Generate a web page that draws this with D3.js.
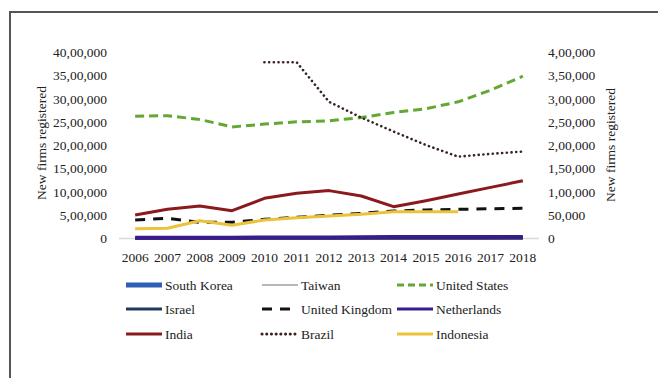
<!DOCTYPE html>
<html>
<head>
<meta charset="utf-8">
<script src="https://cdn.jsdelivr.net/npm/d3@7"></script>
<style>
  body { margin: 0; background: #fff; }
  svg text { font-family: "Liberation Serif", "DejaVu Serif", serif; }
</style>
</head>
<body>
<div id="chart"></div>
<script>
const years = [2006, 2007, 2008, 2009, 2010, 2011, 2012, 2013, 2014, 2015, 2016, 2017, 2018];

// Left axis values (right axis is the same scale / 10)
const southKorea = [8000, 8000, 8000, 8000, 9000, 9000, 10000, 11000, 12000, 12000, 13000, 13000, 14000];
const taiwan = [5000, 5000, 5000, 5000, 5000, 5000, 5000, 5000, 5000, 5000, 5000, 5000, 5000];
const unitedStates = [2630000, 2640000, 2560000, 2400000, 2460000, 2510000, 2530000, 2600000, 2710000, 2790000, 2940000, 3190000, 3490000];
const israel = [4000, 4000, 4000, 4000, 4000, 4000, 4000, 4000, 4000, 4000, 4000, 4000, 4000];
const unitedKingdom = [398000, 434000, 348000, 348000, 413000, 455000, 498000, 541000, 591000, 613000, 627000, 641000, 649000];
const netherlands = [18000, 18000, 18000, 18000, 20000, 22000, 24000, 28000, 30000, 30000, 30000, 30000, 30000];
const india = [505000, 628000, 699000, 598000, 864000, 972000, 1030000, 914000, 684000, 813000, 957000, 1100000, 1240000];
const brazil = [null, null, null, null, 3790000, 3790000, 2940000, 2600000, 2300000, 2010000, 1760000, 1820000, 1870000];
const indonesia = [211000, 219000, 383000, 283000, 398000, 447000, 484000, 520000, 577000, 577000, 577000, null, null];

const leftTicks = [0, 500000, 1000000, 1500000, 2000000, 2500000, 3000000, 3500000, 4000000];
const rightTicks = [0, 50000, 100000, 150000, 200000, 250000, 300000, 350000, 400000];

const series = [
  { name: "South Korea", values: southKorea, color: "#2f5fb3", width: 3, dash: null },
  { name: "Taiwan", values: taiwan, color: "#a0a0a0", width: 2, dash: null },
  { name: "United States", values: unitedStates, color: "#62a832", width: 3, dash: "9,5" },
  { name: "Israel", values: israel, color: "#1f3a5c", width: 3, dash: null },
  { name: "United Kingdom", values: unitedKingdom, color: "#111", width: 3, dash: "10,8" },
  { name: "Netherlands", values: netherlands, color: "#3b1a8c", width: 4, dash: null },
  { name: "India", values: india, color: "#8b1a1e", width: 3, dash: null },
  { name: "Brazil", values: brazil, color: "#3a2420", width: 2.6, dash: "0.1,4.6", cap: "round" },
  { name: "Indonesia", values: indonesia, color: "#ecc23a", width: 3, dash: null }
];

const W = 658, H = 378;
const plot = { left: 119, right: 539, top: 52.5, bottom: 238.5 };
const FONT = "'Liberation Serif', 'DejaVu Serif', serif";

const svg = d3.select("#chart").append("svg")
  .attr("width", W).attr("height", H)
  .attr("font-family", FONT);

// Frame (only top and left edges visible)
svg.append("line").attr("x1", 10).attr("x2", W).attr("y1", 12).attr("y2", 12)
  .attr("stroke", "#555").attr("stroke-width", 2);
svg.append("line").attr("x1", 10).attr("x2", 10).attr("y1", 11).attr("y2", H)
  .attr("stroke", "#555").attr("stroke-width", 2);

const x = d3.scalePoint().domain(years).range([plot.left, plot.right]).padding(0.5);
const yLeft = d3.scaleLinear().domain([0, 4000000]).range([plot.bottom, plot.top]);
const yRight = d3.scaleLinear().domain([0, 400000]).range([plot.bottom, plot.top]);

// Indian digit grouping (e.g. 40,00,000)
const fmt = (v) => {
  const s = String(v);
  if (s.length <= 3) return s;
  const head = s.slice(0, -3), tail = s.slice(-3);
  return head.replace(/\B(?=(\d{2})+(?!\d))/g, ",") + "," + tail;
};

// Zero baseline
svg.append("line").attr("x1", plot.left).attr("x2", plot.right)
  .attr("y1", plot.bottom).attr("y2", plot.bottom)
  .attr("stroke", "#d9d9d9").attr("stroke-width", 1.5);

// Left tick labels
svg.append("g").selectAll("text").data(leftTicks).enter().append("text")
  .attr("x", 107).attr("y", (d) => yLeft(d)).attr("dy", "0.35em")
  .attr("text-anchor", "end").attr("font-size", "13.5px").attr("fill", "#222")
  .text((d) => fmt(d));

// Right tick labels
svg.append("g").selectAll("text").data(rightTicks).enter().append("text")
  .attr("x", 548).attr("y", (d) => yRight(d)).attr("dy", "0.35em")
  .attr("text-anchor", "start").attr("font-size", "13.5px").attr("fill", "#222")
  .text((d) => fmt(d));

// X tick labels
svg.append("g").selectAll("text").data(years).enter().append("text")
  .attr("x", (d) => x(d)).attr("y", 257).attr("dy", "0.35em")
  .attr("text-anchor", "middle").attr("font-size", "13.5px").attr("fill", "#222")
  .text((d) => d);

// Axis titles
svg.append("text").attr("transform", "translate(46,143) rotate(-90)")
  .attr("text-anchor", "middle").attr("font-size", "13.5px").attr("fill", "#222")
  .text("New firms registered");
svg.append("text").attr("transform", "translate(615,145) rotate(-90)")
  .attr("text-anchor", "middle").attr("font-size", "13.5px").attr("fill", "#222")
  .text("New firms registered");

// Lines
const line = d3.line()
  .defined((d) => d != null)
  .x((d, i) => x(years[i]))
  .y((d) => yLeft(d));

series.forEach((s) => {
  svg.append("path")
    .datum(s.values)
    .attr("fill", "none")
    .attr("stroke", s.color)
    .attr("stroke-width", s.width)
    .attr("stroke-dasharray", s.dash)
    .attr("stroke-linecap", s.cap || "butt")
    .attr("stroke-linejoin", "round")
    .attr("d", line);
});

// Legend
const colX = [126, 262, 397];
const rowY = [285, 309, 334];
const legend = svg.append("g");
series.forEach((s, i) => {
  const cx = colX[i % 3], cy = rowY[Math.floor(i / 3)];
  const sw = 36;
  legend.append("line")
    .attr("x1", cx).attr("x2", cx + sw).attr("y1", cy).attr("y2", cy)
    .attr("stroke", s.color)
    .attr("stroke-width", s.name === "South Korea" ? 5 : (s.name === "Taiwan" ? 1.5 : 3))
    .attr("stroke-dasharray", s.name === "United States" ? "7,4" : s.dash)
    .attr("stroke-linecap", s.cap || "butt");
  legend.append("text")
    .attr("x", cx + sw + 3).attr("y", cy).attr("dy", "0.35em")
    .attr("font-size", "13.5px").attr("fill", "#222")
    .text(s.name);
});
</script>
</body>
</html>
